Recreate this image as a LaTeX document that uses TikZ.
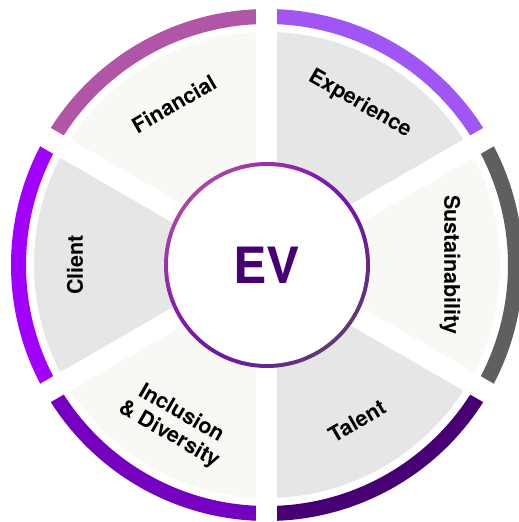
\documentclass[tikz,border=0pt]{standalone}
\usepackage{fontspec}
\setmainfont{TeX Gyre Heros}
\usepackage{tikz}
\usetikzlibrary{shadings}

\definecolor{evFinancial}{HTML}{B156A7}
\definecolor{evExperience}{HTML}{A055F5}
\definecolor{evSustain}{HTML}{5F5F5F}
\definecolor{evTalent}{HTML}{460073}
\definecolor{evInclusion}{HTML}{7500C0}
\definecolor{evClient}{HTML}{A100FF}
\definecolor{evLight}{HTML}{F8F8F5}
\definecolor{evGray}{HTML}{E6E6E6}
\definecolor{evPink}{HTML}{C0609A}
\definecolor{evSlate}{HTML}{505058}

\begin{document}
\begin{tikzpicture}[x=1pt,y=1pt,
    sectortext/.style={draw=none, font=\bfseries\fontsize{21.5}{24}\selectfont, align=center},
    ringarc/.style={line width=15pt},
    sectorgap/.style={white, line width=21pt}]

\useasboundingbox (-267,-257) rectangle (252,265);

\foreach \a/\fillc/\ringc in {90/evLight/evFinancial, 30/evGray/evExperience,
    -30/evLight/evSustain, -90/evGray/evTalent, -150/evLight/evInclusion,
    150/evGray/evClient}{
    \fill[\fillc] (0,0) -- (\a:233) arc (\a:\a+60:233) -- cycle; % sector
    \draw[ringarc,\ringc] (\a:248.5) arc (\a:\a+60:248.5); % outer ring
}
\foreach \a in {30,90,...,330}{
    \draw[sectorgap] (0,0) -- (\a:265); % white cut
}

\shade[upper left=evPink, upper right=evInclusion, lower left=evInclusion,
    lower right=evSlate] (0,0) circle (103);
\node [circle, fill=white, inner sep=0pt, minimum size=198pt, text=evTalent,
    font=\bfseries\fontsize{50}{50}\selectfont] (ev) at (0,0) {EV};

\node [sectortext, rotate=30] (financial) at (120:186) {Financial};
\node [sectortext, rotate=-30] (experience) at (60:186) {Experience};
\node [sectortext, rotate=-90] (sustainability) at (0:183) {Sustainability};
\node [sectortext, rotate=30] (talent) at (-60:180) {Talent};
\node [sectortext, rotate=-30] (inclusion) at (-120:184) {Inclusion\\\& Diversity};
\node [sectortext, rotate=90] (client) at (180:192) {Client};

\end{tikzpicture}
\end{document}
